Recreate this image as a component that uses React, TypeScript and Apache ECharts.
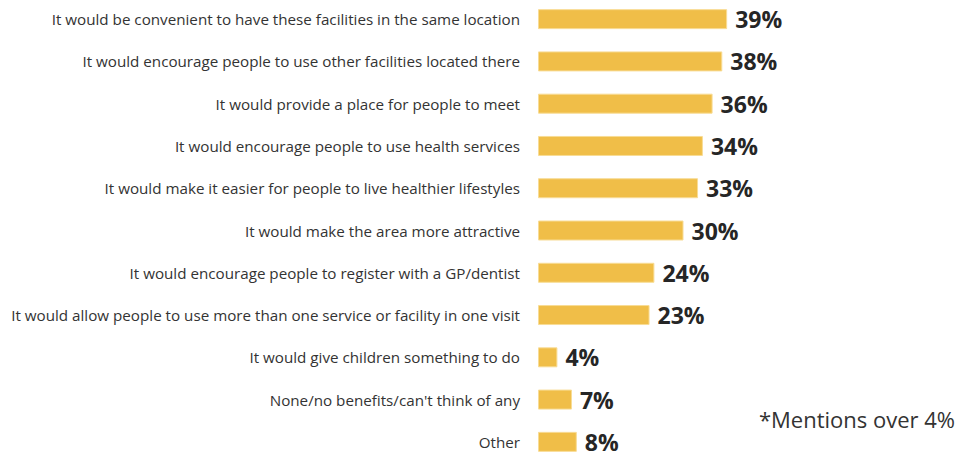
import React, { useEffect, useRef } from "react";
import * as echarts from "echarts";

const categories = [
  "It would be convenient to have these facilities in the same location",
  "It would encourage people to use other facilities located there",
  "It would provide a place for people to meet",
  "It would encourage people to use health services",
  "It would make it easier for people to live healthier lifestyles",
  "It would make the area more attractive",
  "It would encourage people to register with a GP/dentist",
  "It would allow people to use more than one service or facility in one visit",
  "It would give children something to do",
  "None/no benefits/can't think of any",
  "Other",
];
const values = [39, 38, 36, 34, 33, 30, 24, 23, 4, 7, 8];
const footnote = "*Mentions over 4%";

export default function App() {
  const ref = useRef<HTMLDivElement>(null);
  useEffect(() => {
    document.body.style.margin = "0";
    document.body.style.overflow = "hidden";
    const chart = echarts.init(ref.current!, undefined, { renderer: "svg" });
    chart.setOption({
      animation: false,
      grid: { left: 538, top: 0, width: 242.5, height: 465, containLabel: false },
      xAxis: {
        type: "value",
        min: 0,
        max: 50,
        show: false,
      },
      yAxis: {
        type: "category",
        data: categories,
        inverse: true,
        axisLine: { show: false },
        axisTick: { show: false },
        axisLabel: {
          margin: 18,
          fontFamily: "Open Sans",
          fontSize: 15.2,
          color: "#333333",
        },
      },
      series: [
        {
          type: "bar",
          data: values,
          barWidth: 20,
          itemStyle: { color: "#F0BE48", borderColor: "#F8DC95", borderWidth: 1 },
          label: {
            show: true,
            position: "right",
            distance: 8,
            formatter: "{c}%",
            fontFamily: "Open Sans",
            fontWeight: "bold",
            fontSize: 23,
            lineHeight: 18,
            color: "#262626",
          },
        },
      ],
      graphic: [
        {
          type: "text",
          right: 2,
          top: 410,
          style: {
            text: footnote,
            fontFamily: "Open Sans",
            fontSize: 22,
            fill: "#333333",
          },
        },
      ],
    });
    return () => chart.dispose();
  }, []);
  return (
    <div
      ref={ref}
      style={{ position: "absolute", left: 0, top: -2, width: 957, height: 467 }}
    />
  );
}
